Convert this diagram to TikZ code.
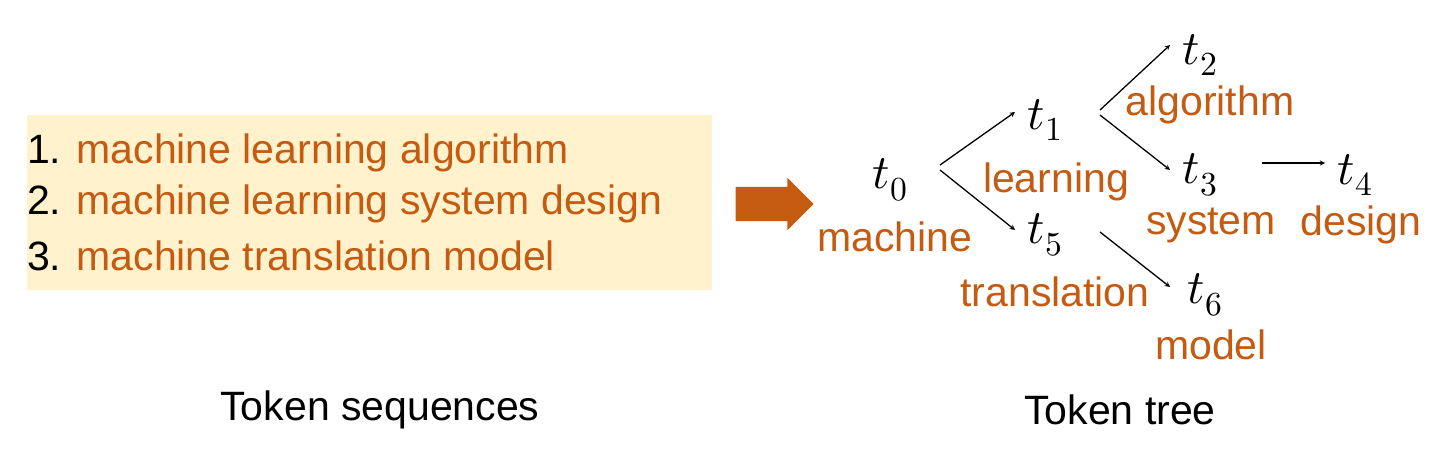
\documentclass[tikz,border=0pt]{standalone}
\usepackage{fontspec}
\usepackage{unicode-math}
\setmainfont{Liberation Sans}
\setmathfont{Latin Modern Math}
\usetikzlibrary{shapes.arrows}
\definecolor{org}{HTML}{C55A11}
\definecolor{pale}{HTML}{FFF2CC}
\begin{document}
\begin{tikzpicture}[x=1pt,y=-1pt,
  txt/.style={font=\fontsize{41}{44}\selectfont,inner sep=0pt},
  lab/.style={txt,text=org},
  tk/.style={font=\fontsize{48}{52}\selectfont,inner sep=2pt},
  ar/.style={-stealth,line width=1.3pt}]
\useasboundingbox (0,0) rectangle (1452,461);
\fill[pale] (27,115) rectangle (712,290);
\node[txt,anchor=west] (l1) at (27,153) {1. \textcolor{org}{machine learning algorithm}};
\node[txt,anchor=west] (l2) at (27,204) {2. \textcolor{org}{machine learning system design}};
\node[txt,anchor=west] (l3) at (27,256) {3. \textcolor{org}{machine translation model}};
\node[single arrow,fill=org,minimum height=78pt,single arrow head extend=9pt,inner sep=17pt,inner xsep=0pt] (big) at (766,204) {};
\node[tk] (t0) at (890,180) {$t_0$};
\node[tk] (t1) at (1045,120) {$t_1$};
\node[tk] (t2) at (1200,55) {$t_2$};
\node[tk] (t3) at (1200,175) {$t_3$};
\node[tk] (t4) at (1355,175) {$t_4$};
\node[tk] (t5) at (1045,235) {$t_5$};
\node[tk] (t6) at (1205,295) {$t_6$};
\node[lab] (m) at (895,237) {machine};
\node[lab] (le) at (1056,182) {learning};
\node[lab] (al) at (1210,105) {algorithm};
\node[lab] (sy) at (1211,225) {system};
\node[lab] (de) at (1361,225) {design};
\node[lab] (tr) at (1055,292) {translation};
\node[lab] (mo) at (1211,345) {model};
\coordinate (a0) at (940,165); \coordinate (a1) at (940,170);
\draw[ar] (a0) -- (1015,112) coordinate (e1);
\draw[ar] (a1) -- (1015,230);
\draw[ar] (1100,110) -- (1170,45);
\draw[ar] (1100,115) -- (1170,170);
\draw[ar] (1262,163) -- (1325,163);
\draw[ar] (1100,232) -- (1170,287);
\node[txt] (c1) at (380,410) {Token sequences};
\node[txt] (c2) at (1120,410) {Token tree};
\end{tikzpicture}
\end{document}
